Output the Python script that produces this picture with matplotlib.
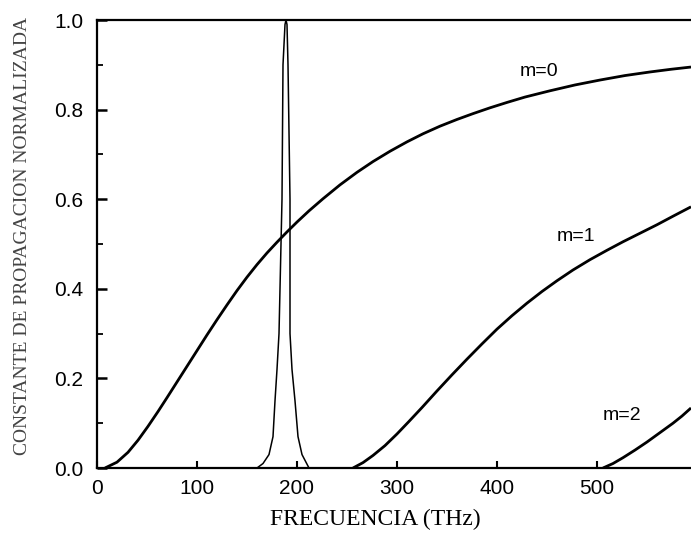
import matplotlib
matplotlib.use("Agg")
import matplotlib.pyplot as plt
from matplotlib.ticker import MultipleLocator

# Mode m=0
m0_x = [8, 20, 31, 41, 51, 61, 70, 80, 90, 100, 110, 120, 130, 140, 150, 160, 170, 180, 190, 200,
        212, 226, 243, 260, 276, 293, 310, 326, 343, 360, 376, 393, 410, 428, 453, 478, 503, 528, 553, 574, 594]
m0_y = [0.0, 0.013, 0.035, 0.062, 0.093, 0.126, 0.157, 0.192, 0.227, 0.262, 0.297, 0.331, 0.364, 0.396,
        0.426, 0.454, 0.480, 0.504, 0.527, 0.549, 0.574, 0.601, 0.632, 0.660, 0.684, 0.707, 0.728, 0.746,
        0.763, 0.778, 0.791, 0.804, 0.816, 0.828, 0.842, 0.855, 0.866, 0.876, 0.884, 0.890, 0.895]

# Mode m=1
m1_x = [256, 266, 276, 288, 300, 312, 325, 340, 355, 370, 385, 400, 415, 430, 445, 460, 476, 493, 510, 526,
        543, 560, 576, 594]
m1_y = [0.0, 0.012, 0.028, 0.050, 0.076, 0.104, 0.135, 0.172, 0.208, 0.243, 0.277, 0.310, 0.340, 0.368,
        0.394, 0.418, 0.442, 0.465, 0.486, 0.505, 0.524, 0.543, 0.562, 0.583]

# Mode m=2
m2_x = [506, 516, 526, 538, 550, 563, 576, 585, 594]
m2_y = [0.0, 0.010, 0.023, 0.040, 0.058, 0.079, 0.100, 0.116, 0.134]

# Resonance peak
pk_x = [160, 166, 172, 176, 178, 180, 182, 185, 186, 188, 189, 190, 191, 193, 193, 195, 198, 201, 205, 212]
pk_y = [0.0, 0.01, 0.03, 0.07, 0.15, 0.22, 0.30, 0.60, 0.90, 0.99, 1.0, 0.99, 0.90, 0.60, 0.30, 0.22, 0.15,
        0.07, 0.03, 0.0]

labels = ["m=0", "m=1", "m=2"]
label_pos = [(442, 0.886), (479, 0.516), (525, 0.118)]

xticks = [0, 100, 200, 300, 400, 500]
yticks = [0.0, 0.2, 0.4, 0.6, 0.8, 1.0]

fig = plt.figure(figsize=(6.91, 5.37), dpi=100)
ax = fig.add_axes([97 / 691, 1 - 468 / 537, 1 - 97 / 691, (468 - 20) / 537])

ax.plot(m0_x, m0_y, color="black", lw=2.0, solid_capstyle="butt")
ax.plot(m1_x, m1_y, color="black", lw=2.0, solid_capstyle="butt")
ax.plot(m2_x, m2_y, color="black", lw=2.0, solid_capstyle="butt")
ax.plot(pk_x, pk_y, color="black", lw=1.1)

for t, (x, y) in zip(labels, label_pos):
    ax.text(x, y, t, ha="center", va="center", fontsize=14, family="Liberation Sans")

ax.set_xlim(0, 594)
ax.set_ylim(0, 1.0)
ax.set_xticks(xticks)
ax.set_xticklabels([str(v) for v in xticks])
ax.set_yticks(yticks)
ax.set_yticklabels([f"{v:.1f}" for v in yticks])
ax.yaxis.set_minor_locator(MultipleLocator(0.1))

for s in ["left", "bottom", "top"]:
    ax.spines[s].set_linewidth(1.6)
ax.spines["right"].set_visible(False)

ax.tick_params(axis="y", which="major", direction="in", length=7, width=1.8, pad=10,
               labelsize=15)
ax.tick_params(axis="y", which="minor", direction="in", length=4.5, width=1.3)
ax.tick_params(axis="x", which="major", direction="in", length=5, width=1.5, pad=8,
               labelsize=15)
for lab in ax.get_xticklabels() + ax.get_yticklabels():
    lab.set_family("Liberation Sans")

ax.set_xlabel("FRECUENCIA (THz)", family="Liberation Serif", fontsize=17)
ax.xaxis.set_label_coords((375 - 97) / 594, -(509 - 468) / 448)
ax.set_ylabel("CONSTANTE DE PROPAGACION NORMALIZADA", family="Liberation Serif", fontsize=14,
              color="#444444")
ax.yaxis.set_label_coords(-(97 - 31) / 594, (468 - 236) / 448)

fig.savefig("out.png", dpi=100)
